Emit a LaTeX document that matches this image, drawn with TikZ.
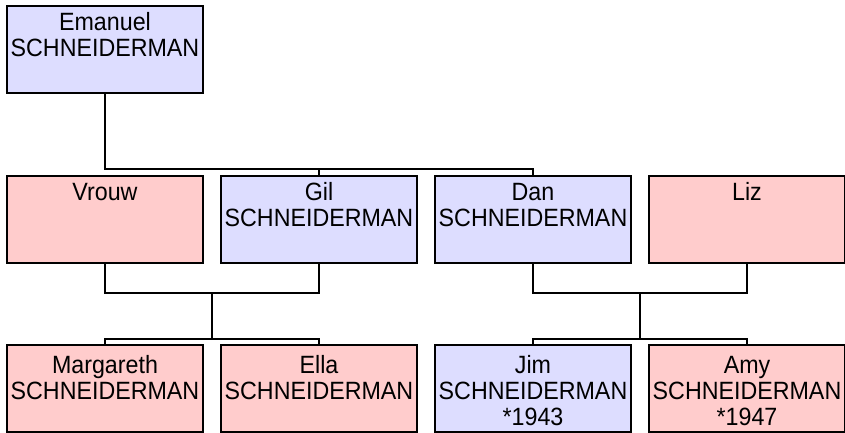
\documentclass[tikz,border=0pt]{standalone}
\usepackage{fontspec}
\setmainfont{Liberation Sans}
\usetikzlibrary{positioning,calc}
\definecolor{manfill}{RGB}{221,221,255}
\definecolor{womanfill}{RGB}{255,204,204}
\newcommand\pers[1]{\scalebox{.93}[1]{\begin{tabular}[t]{@{}c@{}}#1\end{tabular}}}
\begin{document}
\begin{tikzpicture}[x=1pt,y=1pt,line width=1.6pt,
    box/.style={draw,inner sep=0,outer sep=0,minimum width=196pt,
      text height=24pt,text depth=63pt,anchor=north west,
      font=\fontsize{25}{26}\selectfont},
    man/.style={box,fill=manfill},
    woman/.style={box,fill=womanfill},
    kid/.style={text height=28pt,text depth=59pt}]
  \useasboundingbox (0,0) rectangle (845,-432);
  \node[man] (eman) at (7,-6) {\pers{Emanuel\\SCHNEIDERMAN}};
  \node[woman] (vrouw) at (7,-176) {\pers{Vrouw}};
  \node[man,right=18pt of vrouw] (gil) {\pers{Gil\\SCHNEIDERMAN}};
  \node[man,right=18pt of gil] (dan) {\pers{Dan\\SCHNEIDERMAN}};
  \node[woman,right=18pt of dan] (liz) {\pers{Liz}};
  \node[woman,kid] (marg) at (7,-345) {\pers{Margareth\\SCHNEIDERMAN}};
  \node[woman,kid,right=18pt of marg] (ella) {\pers{Ella\\SCHNEIDERMAN}};
  \node[man,kid,right=18pt of ella] (jim) {\pers{Jim\\SCHNEIDERMAN\\{*}1943}};
  \node[woman,kid,right=18pt of jim] (amy) {\pers{Amy\\SCHNEIDERMAN\\{*}1947}};
  \draw (eman.south) |- ([yshift=7pt]dan.north) -- (dan.north);
  \draw (gil.north) -- ++(0,7);
  \draw (vrouw.south) -- ++(0,-30) -| (gil.south);
  \draw (dan.south) -- ++(0,-30) -| (liz.south);
  \coordinate (vg) at ($(vrouw.south)!.5!(gil.south)+(0,-30)$);
  \coordinate (dl) at ($(dan.south)!.5!(liz.south)+(0,-30)$);
  \draw (vg) -- ($(vg |- marg.north)+(0,6)$);
  \draw (dl) -- ($(dl |- jim.north)+(0,6)$);
  \draw (marg.north) -- ++(0,6) -| (ella.north);
  \draw (jim.north) -- ++(0,6) -| (amy.north);
\end{tikzpicture}
\end{document}
